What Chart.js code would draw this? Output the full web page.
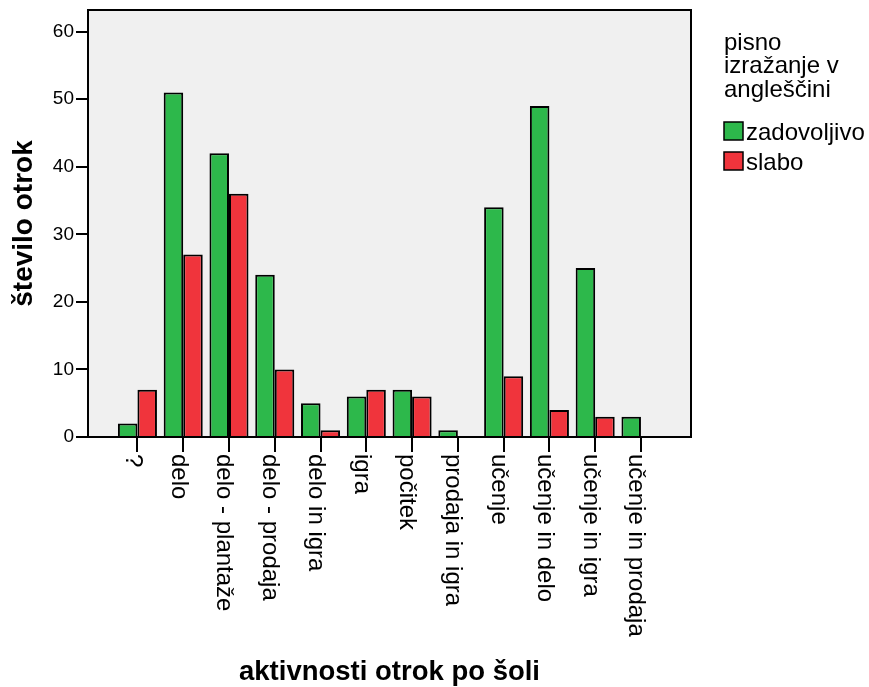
<!DOCTYPE html>
<html>
<head>
<meta charset="utf-8">
<title>aktivnosti otrok po šoli</title>
<script src="https://cdn.jsdelivr.net/npm/chart.js@4.4.1/dist/chart.umd.min.js"></script>
<style>
  body { margin: 0; background: #fff; }
</style>
</head>
<body>
<canvas id="chart" width="869" height="687"></canvas>
<script>
// categories on the x axis
const categories = ["?", "delo", "delo - plantaže", "delo - prodaja", "delo in igra", "igra",
  "počitek", "prodaja in igra", "učenje", "učenje in delo", "učenje in igra", "učenje in prodaja"];

// counts per group
const zadovoljivo = [2, 51, 42, 24, 5, 6, 7, 1, 34, 49, 25, 3];
const slabo = [7, 27, 36, 10, 1, 7, 6, 0, 9, 4, 3, 0];

const seriesNames = ["zadovoljivo", "slabo"];
const seriesColors = ["#2db84b", "#f0343c"];
const yTicks = [0, 10, 20, 30, 40, 50, 60];
const legendTitle = ["pisno", "izražanje v", "angleščini"];

const FONT = "'Liberation Sans', Arial, sans-serif";

// grey plot background, frame, rotated category labels, legend
const spssLook = {
  id: "spssLook",
  beforeDraw(chart) {
    const a = chart.chartArea, ctx = chart.ctx;
    ctx.save();
    ctx.fillStyle = "#f0f0f0";
    ctx.fillRect(a.left, a.top, a.width, a.height);
    ctx.restore();
  },
  afterDraw(chart) {
    const a = chart.chartArea, ctx = chart.ctx;
    ctx.save();
    ctx.strokeStyle = "#000";
    ctx.lineWidth = 2;
    ctx.strokeRect(a.left, a.top, a.width, a.height);

    // category labels, reading top to bottom
    ctx.fillStyle = "#000";
    ctx.font = "24px " + FONT;
    ctx.textAlign = "left";
    ctx.textBaseline = "middle";
    categories.forEach((c, i) => {
      const x = chart.scales.x.getPixelForValue(i);
      ctx.save();
      ctx.translate(x - 5, a.bottom + 17);
      ctx.rotate(Math.PI / 2);
      ctx.fillText(c, 0, 0);
      ctx.restore();
    });

    // legend
    const lx = a.right + 33;
    ctx.textBaseline = "alphabetic";
    legendTitle.forEach((t, i) => ctx.fillText(t, lx, 50 + i * 23.3));
    chart.data.datasets.forEach((ds, i) => {
      const y = 122 + i * 30;
      ctx.fillStyle = ds.backgroundColor;
      ctx.fillRect(lx, y, 19, 18);
      ctx.lineWidth = 1.5;
      ctx.strokeStyle = "#000";
      ctx.strokeRect(lx, y, 19, 18);
      ctx.fillStyle = "#000";
      ctx.fillText(ds.label, lx + 22, y + 18);
    });
    ctx.restore();
  }
};

new Chart(document.getElementById("chart"), {
  type: "bar",
  data: {
    datasets: [
      {
        label: seriesNames[0],
        data: zadovoljivo.map((v, i) => ({ x: i, y: v })),
        backgroundColor: seriesColors[0]
      },
      {
        label: seriesNames[1],
        data: slabo.map((v, i) => ({ x: i, y: v })),
        backgroundColor: seriesColors[1]
      }
    ]
  },
  options: {
    responsive: false,
    animation: false,
    layout: { padding: { top: 10, right: 178, left: 0, bottom: 0 } },
    datasets: {
      bar: {
        categoryPercentage: 0.853,
        barPercentage: 1,
        borderColor: "#000",
        borderWidth: 2
      }
    },
    plugins: {
      legend: { display: false },
      tooltip: { enabled: false }
    },
    scales: {
      x: {
        type: "linear",
        offset: false,
        min: -1.08,
        max: 12.093,
        afterBuildTicks: s => { s.ticks = categories.map((c, i) => ({ value: i })); },
        afterFit: s => { s.height = 250; s.paddingLeft = 0; s.paddingRight = 0; },
        ticks: { display: false },
        grid: { offset: false, drawOnChartArea: false, tickLength: 15, color: "#000", lineWidth: 2 },
        border: { color: "#000", width: 2 },
        title: {
          display: true,
          text: "aktivnosti otrok po šoli",
          color: "#000",
          font: { family: FONT, size: 27.5, weight: "bold", lineHeight: 1 },
          padding: { top: 0, bottom: 1 }
        }
      },
      y: {
        min: 0,
        max: 63.2,
        afterBuildTicks: s => { s.ticks = yTicks.map(v => ({ value: v })); },
        afterFit: s => { s.width = 88; s.paddingTop = 0; s.paddingBottom = 0; },
        ticks: { color: "#000", font: { family: FONT, size: 19 }, padding: 2 },
        grid: { drawOnChartArea: false, tickLength: 12, color: "#000", lineWidth: 2 },
        border: { color: "#000", width: 2 },
        title: {
          display: true,
          text: "število otrok",
          color: "#000",
          font: { family: FONT, size: 28, weight: "bold", lineHeight: 1 },
          padding: { top: 10, bottom: 0 }
        }
      }
    }
  },
  plugins: [spssLook]
});
</script>
</body>
</html>
